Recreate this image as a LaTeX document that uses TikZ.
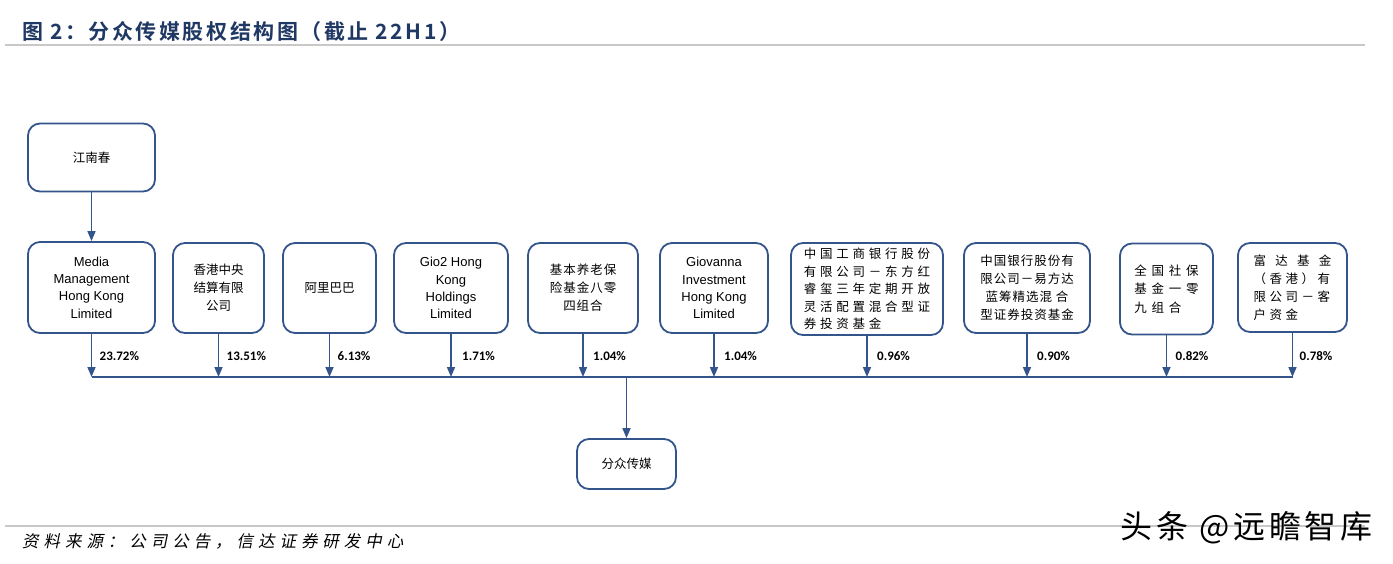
\documentclass[tikz,border=0pt]{standalone}
\usepackage{fontspec}
\usetikzlibrary{arrows.meta}
\setmainfont{Liberation Sans}
\newfontfamily\cjk{Noto Sans CJK SC}
\newfontfamily\cjkA[LetterSpace=8]{Noto Sans CJK SC}
\newfontfamily\cjkB[LetterSpace=30]{Noto Sans CJK SC}
\newfontfamily\cjkC[LetterSpace=38]{Noto Sans CJK SC}
\newfontfamily\cjkD[LetterSpace=28]{Noto Sans CJK SC}
\newfontfamily\cjkE[LetterSpace=74]{Noto Sans CJK SC}
\newfontfamily\cjktitle[LetterSpace=12]{Noto Sans CJK SC Bold}
\newfontfamily\cjkfoot[FakeSlant=0.2,LetterSpace=30]{Noto Sans CJK SC}
\newfontfamily\cjkwm[LetterSpace=12]{Noto Sans CJK SC}
\newfontfamily\pctfont{Carlito}
\definecolor{boxc}{RGB}{52,84,140}
\definecolor{titlec}{RGB}{31,56,100}
\definecolor{rulec}{RGB}{200,200,200}
\tikzset{
  ownbox/.style={draw=boxc, line width=1.8pt, rounded corners=12pt, fill=white,
    inner sep=0pt, align=center, font=\fontsize{12.5}{17.5}\selectfont},
  latinbox/.style={ownbox, font=\fontsize{13}{17.3}\selectfont},
  cjkbox/.style={ownbox, font={\cjk\fontsize{12.5}{18}\selectfont}},
  cjkboxA/.style={ownbox, font={\cjkA\fontsize{12.5}{18}\selectfont}},
  cjkboxB/.style={ownbox, align=left, font={\cjkB\fontsize{12.5}{17.6}\selectfont}},
  cjkboxC/.style={ownbox, align=left, font={\cjkC\fontsize{12.5}{18.5}\selectfont}},
  cjkboxD/.style={ownbox, align=left, font={\cjkD\fontsize{12.5}{18}\selectfont}},
  flow/.style={draw=boxc, line width=1.6pt},
  flowarr/.style={flow, -{Triangle[width=8pt,length=10pt]}},
  pct/.style={anchor=west, inner sep=0pt, font=\pctfont\bfseries\fontsize{13}{14}\selectfont},
}
\begin{document}
\begin{tikzpicture}[x=1pt,y=-1pt]
\useasboundingbox (0,0) rectangle (1393,563);
% title and rules
\node[anchor=west, inner sep=0pt, text=titlec, font=\cjktitle\fontsize{21}{23}\selectfont] (title) at (22,32) {图 2：分众传媒股权结构图（截止 22H1）};
\draw[rulec, line width=2pt] (5,45) -- (1365,45);
\draw[rulec, line width=1.5pt] (5,526) -- (1365,526);
\node[anchor=west, inner sep=0pt, font=\cjkfoot\fontsize{16.5}{18}\selectfont] (src) at (22,541) {资料来源：公司公告，信达证券研发中心};
\node[anchor=west, inner sep=0pt, font=\cjkwm\fontsize{32}{34}\selectfont] (wm) at (1120,528) {头条 @远瞻智库};
% boxes
\node[cjkbox, minimum width=127pt, minimum height=68pt] (top) at (91.5,157.5) {江南春};
\node[latinbox, minimum width=127pt, minimum height=91pt] (m1) at (91.5,287.5) {Media\\Management\\Hong Kong\\Limited};
\node[cjkbox, minimum width=91pt, minimum height=90pt] (m2) at (218.5,288) {香港中央\\结算有限\\公司};
\node[cjkbox, minimum width=93pt, minimum height=90pt] (m3) at (329.5,288) {阿里巴巴};
\node[latinbox, minimum width=114pt, minimum height=90pt] (m4) at (451,288) {Gio2 Hong\\Kong\\Holdings\\Limited};
\node[cjkboxA, minimum width=110pt, minimum height=90pt] (m5) at (583,288) {基本养老保\\险基金八零\\四组合};
\node[latinbox, minimum width=108pt, minimum height=90pt] (m6) at (714,288) {Giovanna\\Investment\\Hong Kong\\Limited};
\node[cjkboxB, minimum width=152pt, minimum height=92pt] (m7) at (867,289) {中国工商银行股份\\有限公司－东方红\\睿玺三年定期开放\\灵活配置混合型证\\券投资基金};
\node[cjkboxA, minimum width=126pt, minimum height=90pt] (m8) at (1027,288) {中国银行股份有\\限公司－易方达\\蓝筹精选混 合\\型证券投资基金};
\node[cjkboxC, minimum width=93pt, minimum height=91pt] (m9) at (1166.5,289) {全国社保\\基金一零\\九组合};
\node[cjkboxD, minimum width=109pt, minimum height=89pt] (m10) at (1292.5,287.5) {{\cjkE 富达基金}\\（香港）有\\限公司－客\\户资金};
\node[cjkbox, minimum width=99pt, minimum height=50pt] (fz) at (626.5,464) {分众传媒};
% connectors
\coordinate (hl) at (0,377);
\coordinate (hub) at (626.5,377);
\draw[flowarr] (top) -- (m1);
\foreach \i in {1,...,10} {
  \draw[flowarr] (m\i.south) -- (m\i.south |- hl);
}
\draw[flow] (m1.south |- hl) -- (m10.south |- hl);
\draw[flowarr] (hub) -- (fz);
% percentages
\node[pct] (p1) at ([xshift=8pt]m1.south |- 0,356) {23.72\%};
\node[pct] (p2) at ([xshift=8pt]m2.south |- 0,356) {13.51\%};
\node[pct] (p3) at ([xshift=8pt]m3.south |- 0,356) {6.13\%};
\node[pct] (p4) at ([xshift=11pt]m4.south |- 0,356) {1.71\%};
\node[pct] (p5) at ([xshift=10pt]m5.south |- 0,356) {1.04\%};
\node[pct] (p6) at ([xshift=10pt]m6.south |- 0,356) {1.04\%};
\node[pct] (p7) at ([xshift=10pt]m7.south |- 0,356) {0.96\%};
\node[pct] (p8) at ([xshift=10pt]m8.south |- 0,356) {0.90\%};
\node[pct] (p9) at ([xshift=9pt]m9.south |- 0,356) {0.82\%};
\node[pct] (p10) at ([xshift=7pt]m10.south |- 0,356) {0.78\%};
\end{tikzpicture}
\end{document}
